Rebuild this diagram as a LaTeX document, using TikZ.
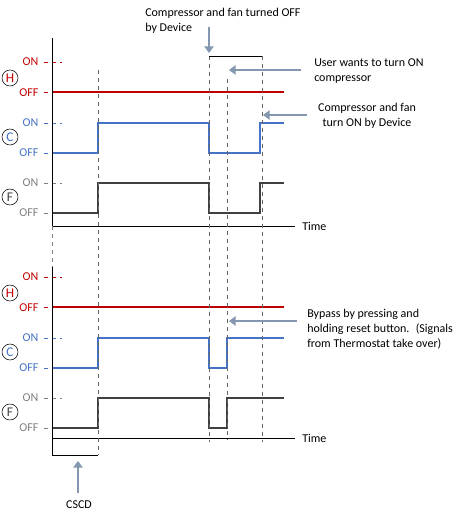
\documentclass[tikz,border=0pt]{standalone}
\usepackage{fontspec}
\setmainfont{Carlito}
\usetikzlibrary{arrows.meta,positioning}

\definecolor{hred}{HTML}{C00000}
\definecolor{cblue}{HTML}{4472C4}
\definecolor{fdark}{HTML}{404040}
\definecolor{fgray}{HTML}{7F7F7F}
\definecolor{notec}{HTML}{8497B0}

\begin{document}
\begin{tikzpicture}[x=0.75pt,y=-0.75pt,font=\fontsize{9}{11}\selectfont,
  sig/.style={line width=2.2pt},
  tick/.style={thin,dash pattern=on 3pt off 3pt},
  guide/.style={thin,dashed,color=fdark!80},
  lvl/.style={anchor=east,inner sep=1pt},
  sigcirc/.style={circle,draw,thin,inner sep=0pt,minimum size=12pt,font=\fontsize{10}{11}\selectfont},
  note/.style={-{Triangle[length=5pt,width=7pt]},line width=2pt,color=notec},
  txt/.style={anchor=west,align=left,inner sep=0pt}]

  \useasboundingbox (0,0) rectangle (469,518);

  % two panels: offset / name / end of the low part
  \foreach \o/\p/\e in {0/a/260,215/b/227}{
    \node[lvl,text=hred] (Hon\p) at (40,\o+62) {ON};
    \node[lvl,text=hred] (Hoff\p) at (40,\o+93) {OFF};
    \node[lvl,text=cblue] (Con\p) at (40,\o+123) {ON};
    \node[lvl,text=cblue] (Coff\p) at (40,\o+153) {OFF};
    \node[lvl,text=fgray] (Fon\p) at (40,\o+183) {ON};
    \node[lvl,text=fgray] (Foff\p) at (40,\o+213) {OFF};

    \node[sigcirc,text=hred] (H\p) at (10,\o+78) {H};
    \node[sigcirc,text=cblue] (C\p) at (10,\o+137) {C};
    \node[sigcirc,text=fdark] (F\p) at (10,\o+197) {F};

    \draw[tick,hred] (44,\o+62) -- (62,\o+62);
    \draw[tick,hred] (44,\o+92) -- (52,\o+92);
    \draw[tick,cblue] (44,\o+123) -- (62,\o+123);
    \draw[tick,cblue] (44,\o+153) -- (52,\o+153);
    \draw[tick,fgray] (44,\o+183) -- (62,\o+183);
    \draw[tick,fgray] (44,\o+213) -- (52,\o+213);

    \draw[sig,hred] (52,\o+92) -- (284,\o+92);
    \draw[sig,cblue] (52,\o+153) -| (98,\o+123) -| (209,\o+153) -| (\e,\o+123) -- (284,\o+123);
    \draw[sig,fdark] (52,\o+213) -| (98,\o+183) -| (209,\o+213) -| (\e,\o+183) -- (284,\o+183);
  }

  % axes
  \draw[thin] (52,38) -- (52,226) -- (295,226);
  \node[txt] (timea) at (302,226) {Time};
  \draw[thin,dashed,gray] (52,226) -- (52,267);
  \draw[thin] (52,267) -- (52,455) -- (98,455);
  \draw[thin] (52,438) -- (295,438);
  \node[txt] (timeb) at (302,438) {Time};

  % guides
  \draw[guide] (98,70) -- (98,455);
  \draw[guide] (209,56) -- (209,442);
  \draw[guide] (227,79) -- (227,440);
  \draw[guide] (262,56) -- (262,442);
  \draw[thin] (209,56) -- (262,56);

  % notes
  \node[txt] (offnote) at (145,21) {Compressor and fan turned OFF\\by Device};
  \coordinate (offtail) at (209,27);
  \coordinate (offtip) at (209,53);
  \draw[note] (offtail) -- (offtip);

  \node[txt] (usernote) at (314,71) {User wants to turn ON\\compressor};
  \coordinate (usertail) at (301,70);
  \coordinate (usertip) at (229,70);
  \draw[note] (usertail) -- (usertip);

  \node[align=center,inner sep=0pt] (onnote) at (367,116) {Compressor and fan\\turn ON by Device};
  \coordinate (ontail) at (307,115);
  \coordinate (ontip) at (263,115);
  \draw[note] (ontail) -- (ontip);

  \node[txt] (bypassnote) at (307,329) {Bypass by pressing and\\holding reset button.~ (Signals\\from Thermostat take over)};
  \coordinate (bypasstail) at (297,321);
  \coordinate (bypasstip) at (229,321);
  \draw[note] (bypasstail) -- (bypasstip);

  \node[inner sep=0pt] (cscd) at (79,505) {CSCD};
  \coordinate (cscdtail) at (78,493);
  \coordinate (cscdtip) at (78,461);
  \draw[note] (cscdtail) -- (cscdtip);
\end{tikzpicture}
\end{document}
